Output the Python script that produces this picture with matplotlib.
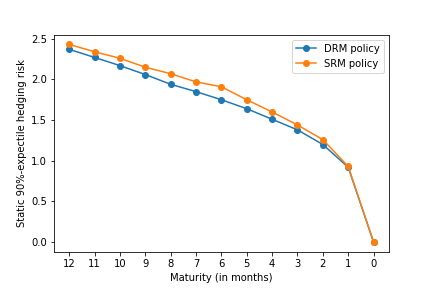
import matplotlib
matplotlib.use("Agg")
import matplotlib.pyplot as plt

maturity = [12, 11, 10, 9, 8, 7, 6, 5, 4, 3, 2, 1, 0]
drm_risk = [2.37, 2.27, 2.17, 2.06, 1.94, 1.85, 1.75, 1.64, 1.51, 1.38, 1.20, 0.92, 0.0]
srm_risk = [2.43, 2.34, 2.26, 2.15, 2.07, 1.97, 1.91, 1.75, 1.60, 1.44, 1.26, 0.93, 0.0]

fig, ax = plt.subplots(figsize=(6, 4), dpi=72)
fig.subplots_adjust(left=0.125, right=0.9, bottom=0.125, top=0.88)
ax.plot(maturity, drm_risk, marker="o", label="DRM policy")
ax.plot(maturity, srm_risk, marker="o", label="SRM policy")
ax.set_xticks(maturity)
ax.invert_xaxis()
ax.set_xlabel("Maturity (in months)")
ax.set_ylabel("Static 90%-expectile hedging risk")
ax.legend()
fig.savefig("out.png", dpi=72)
